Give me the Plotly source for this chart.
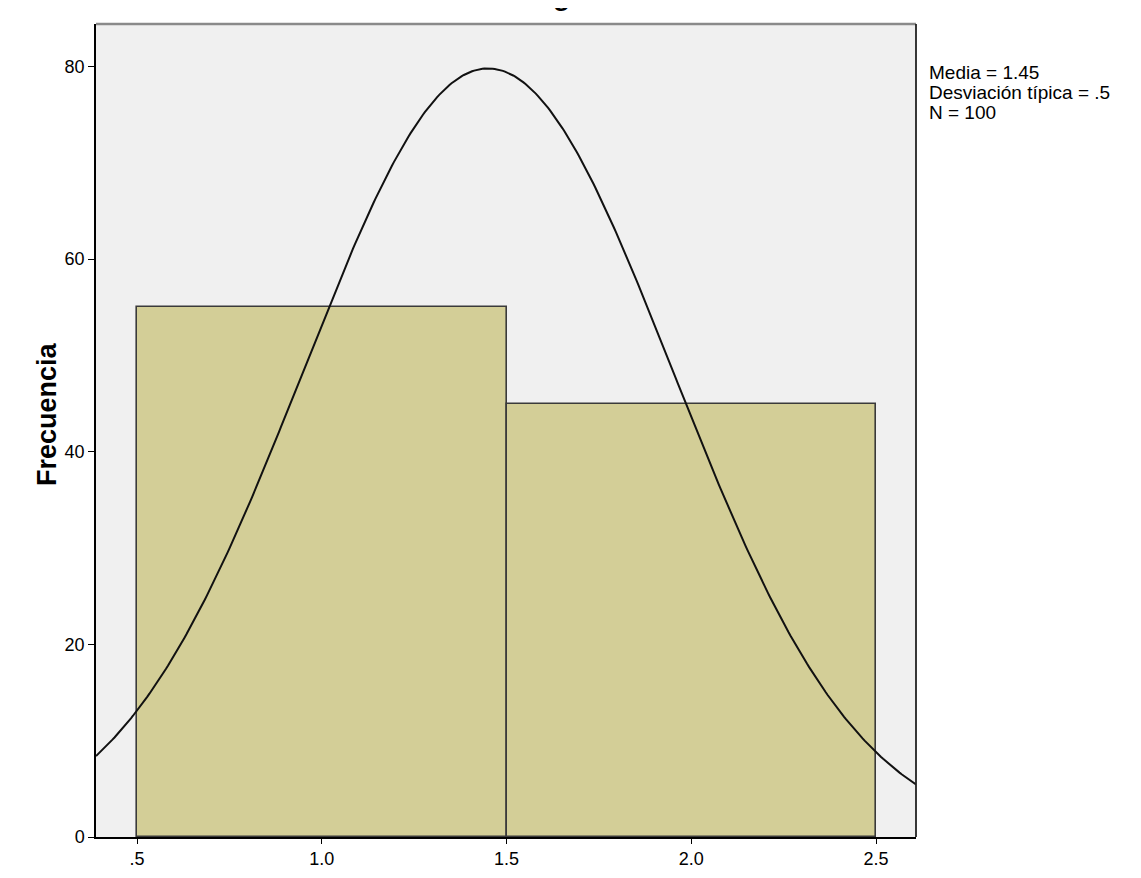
import numpy as np
import plotly.graph_objects as go

# Data
bin_centers = [1.0, 2.0]
frequencies = [55, 45]
bin_width = 1.0
mean_val = 1.45
sd_val = 0.5
n_val = 100
x_tickvals = [0.5, 1.0, 1.5, 2.0, 2.5]
x_ticktext = [".5", "1.0", "1.5", "2.0", "2.5"]
y_tickvals = [0, 20, 40, 60, 80]
stats_lines = ["Media = 1.45", "Desviación típica = .5", "N = 100"]
y_title = "Frecuencia"

x_range = [0.389, 2.608]
y_range = [0, 84.4]

# Normal curve implied by the reported mean / sd / N
xc = np.linspace(x_range[0], x_range[1], 400)
yc = n_val * bin_width / (sd_val * np.sqrt(2 * np.pi)) * np.exp(-0.5 * ((xc - mean_val) / sd_val) ** 2)

fig = go.Figure()
fig.add_trace(go.Bar(
    x=bin_centers, y=frequencies, width=bin_width,
    marker=dict(color="#D3CE97", line=dict(color="#3a3a3a", width=1.6)),
    showlegend=False, hoverinfo="skip",
))
fig.add_trace(go.Scatter(
    x=xc, y=yc, mode="lines", line=dict(color="#111111", width=2),
    showlegend=False, hoverinfo="skip",
))

font_family = "Liberation Sans, Arial, sans-serif"

fig.update_layout(
    width=1141, height=878,
    margin=dict(l=88, r=233, t=16, b=49),
    paper_bgcolor="white", plot_bgcolor="#F0F0F0",
    bargap=0,
    font=dict(family=font_family, size=18, color="#000"),
    xaxis=dict(
        range=x_range, tickvals=x_tickvals, ticktext=x_ticktext,
        showgrid=False, zeroline=False, showline=True, linecolor="#000", linewidth=1.5,
        ticks="outside", ticklen=5, tickcolor="#000", tickwidth=1.2,
        tickfont=dict(size=18, color="#000"),
    ),
    yaxis=dict(
        range=y_range, tickvals=y_tickvals,
        showgrid=False, zeroline=False, showline=True, linecolor="#000", linewidth=1.5,
        ticks="outside", ticklen=6, tickcolor="#000", tickwidth=1.2,
        tickfont=dict(size=18, color="#000"),
    ),
)

# y axis title
fig.add_annotation(
    text="<b>" + y_title + "</b>", xref="paper", yref="paper", x=-0.06, y=0.52,
    xanchor="center", yanchor="middle", textangle=-90, showarrow=False,
    font=dict(size=27, color="#000", family=font_family),
)

# frame: grey top edge, dark right edge
fig.add_shape(type="line", xref="paper", yref="paper", x0=0, x1=1, y0=1, y1=1,
              line=dict(color="#8a8a8a", width=2.5))
fig.add_shape(type="line", xref="paper", yref="paper", x0=1, x1=1, y0=0, y1=1,
              line=dict(color="#222", width=1.8))

# stats text
for i, line in enumerate(stats_lines):
    fig.add_annotation(
        text=line, xref="paper", yref="paper", x=1.0, y=0.956,
        xanchor="left", yanchor="top", xshift=11, yshift=-20 * i,
        showarrow=False, align="left",
        font=dict(size=19, color="#000", family=font_family),
    )

# clipped title (only bottom visible, as in the reference)
fig.add_annotation(
    text="<b>Histograma</b>", xref="paper", yref="paper", x=0.566, y=1,
    xanchor="center", yanchor="bottom", yshift=11, showarrow=False,
    font=dict(size=28, color="#000", family=font_family),
)

fig.write_html("out.html")
